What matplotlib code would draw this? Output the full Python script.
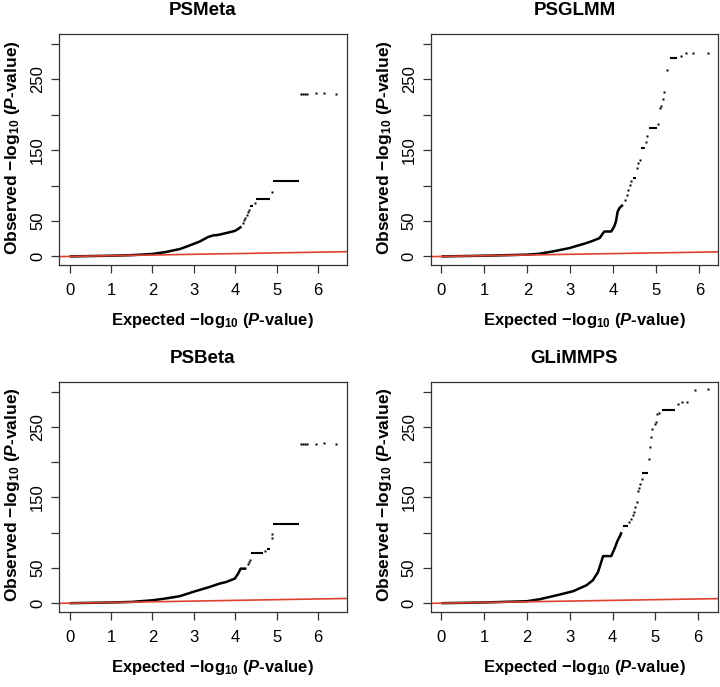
import numpy as np
import matplotlib
matplotlib.use("Agg")
import matplotlib.pyplot as plt

plt.rcParams['font.family'] = ['Liberation Sans', 'DejaVu Sans']
plt.rcParams['mathtext.fontset'] = 'custom'
plt.rcParams['mathtext.rm'] = 'Liberation Sans:bold'
plt.rcParams['mathtext.it'] = 'Liberation Sans:bold:italic'
plt.rcParams['mathtext.bf'] = 'Liberation Sans:bold'

# values: expected vs observed -log10(P)
titles = ["PSMeta", "PSGLMM", "PSBeta", "GLiMMPS"]

# PSMeta
psmeta_curve_x = [0, 0.5, 1.0, 1.5, 2.0, 2.3, 2.66, 2.9, 3.14, 3.34, 3.46, 3.6, 3.78, 3.99, 4.1, 4.15]
psmeta_curve_y = [0, 0.5, 1.0, 1.8, 3.5, 6.0, 10.4, 15.5, 21, 27.3, 29.6, 30.5, 33, 36, 40, 42.3]
psmeta_runs = [(4.36, 4.44, 70.5), (4.50, 4.85, 80.9), (4.90, 5.53, 107)]
psmeta_dots_x = [4.19, 4.21, 4.24, 4.28, 4.31, 4.34, 4.47, 4.89, 5.58, 5.63, 5.68, 5.74, 5.94, 6.14, 6.44]
psmeta_dots_y = [47, 51, 54, 58, 63.4, 66, 75, 91.6, 230, 230, 230, 230, 230.5, 231, 230]

# PSGLMM
psglmm_curve_x = [0, 1.0, 2.0, 2.28, 2.59, 2.98, 3.37, 3.52, 3.68, 3.75, 3.79, 3.95, 4.02, 4.06, 4.10, 4.14, 4.22]
psglmm_curve_y = [0, 1.0, 2.5, 3.8, 7.0, 11.8, 18.8, 22, 25.9, 32, 35.2, 35.2, 42.3, 49.3, 63.4, 68.2, 72.9]
psglmm_runs = [(4.46, 4.53, 110.5), (4.64, 4.74, 152.7), (4.84, 5.01, 182), (5.32, 5.49, 280)]
psglmm_dots_x = [4.28, 4.32, 4.35, 4.38, 4.42, 4.55, 4.58, 4.61, 4.76, 4.79, 5.04, 5.08, 5.10, 5.15, 5.18, 5.24, 5.57, 5.69, 5.86, 6.19]
psglmm_dots_y = [80, 87, 94, 101, 106, 124.6, 131.6, 136, 162, 170, 187, 210, 212, 223, 231.6, 263, 283, 286.6, 287.5, 286.6]

# PSBeta
psbeta_curve_x = [0, 1.0, 1.5, 2.01, 2.3, 2.66, 2.98, 3.38, 3.62, 3.78, 3.99, 4.07, 4.13, 4.27]
psbeta_curve_y = [0, 1.0, 1.8, 4.2, 6.5, 9.9, 16, 23, 27.8, 30, 34.9, 42, 49, 49]
psbeta_runs = [(4.37, 4.67, 71), (4.77, 4.85, 76.3), (4.90, 5.53, 112.6)]
psbeta_dots_x = [4.31, 4.33, 4.35, 4.71, 4.88, 4.89, 5.58, 5.63, 5.68, 5.74, 5.94, 6.14, 6.44]
psbeta_dots_y = [56, 58, 60.7, 73.9, 92.8, 98.4, 225.6, 225.6, 225.6, 225.6, 226, 226.5, 225.6]

# GLiMMPS
glimmps_curve_x = [0, 1.0, 2.0, 2.30, 2.77, 3.08, 3.39, 3.54, 3.66, 3.78, 3.97, 4.05, 4.12, 4.18, 4.21]
glimmps_curve_y = [0, 1.0, 2.8, 5.6, 12.3, 17, 25.4, 32.5, 44, 66.8, 66.8, 78, 89, 96, 100.7]
glimmps_runs = [(4.25, 4.36, 110), (4.70, 4.84, 184.6), (5.15, 5.45, 273.6)]
glimmps_dots_x = [4.39, 4.44, 4.47, 4.50, 4.53, 4.56, 4.60, 4.62, 4.64, 4.68, 4.85, 4.87, 4.91, 4.93, 4.99,
                  5.01, 5.04, 5.09, 5.53, 5.63, 5.73, 5.92, 6.22]
glimmps_dots_y = [114.8, 119.6, 125, 129, 137, 144, 159.6, 164, 169, 176, 204, 220.8, 235, 246.7, 254,
                  257, 268, 270, 282, 285, 285, 302, 304]

panels = [
    (psmeta_curve_x, psmeta_curve_y, psmeta_runs, psmeta_dots_x, psmeta_dots_y),
    (psglmm_curve_x, psglmm_curve_y, psglmm_runs, psglmm_dots_x, psglmm_dots_y),
    (psbeta_curve_x, psbeta_curve_y, psbeta_runs, psbeta_dots_x, psbeta_dots_y),
    (glimmps_curve_x, glimmps_curve_y, glimmps_runs, glimmps_dots_x, glimmps_dots_y),
]

y_ticks = [0, 50, 100, 150, 200, 250, 300]
y_ticklabels = ['0', '50', '', '150', '', '250', '']
x_ticks = [0, 1, 2, 3, 4, 5, 6]
ymax = 302

boxes = [
    [0.0819, 0.6143, 0.400, 0.3362],
    [0.5982, 0.6143, 0.3993, 0.3362],
    [0.0819, 0.1096, 0.400, 0.3348],
    [0.5982, 0.1096, 0.3993, 0.3348],
]

fig = plt.figure(figsize=(7.2, 6.87), dpi=100)

for i, (cx, cy, runs, dx, dy) in enumerate(panels):
    ax = fig.add_axes(boxes[i])
    ax.plot(cx, cy, color='black', lw=1.8, solid_capstyle='butt')
    for x0, x1, yv in runs:
        ax.hlines(yv, x0, x1, color='black', lw=1.5)
    ax.plot(dx, dy, ls='none', marker='s', ms=1.6, mec='none', mfc='black')

    # R style axis range (4% padding)
    xmax = max(dx)
    ax.set_xlim(-0.04 * xmax, 1.04 * xmax)
    ax.set_ylim(-0.04 * ymax, 1.04 * ymax)

    # y = x reference line
    ax.axline((0, 0), slope=1, color='#e0402f', lw=1.2)

    ax.set_xticks(x_ticks)
    ax.set_yticks(y_ticks)
    ax.set_yticklabels(y_ticklabels, rotation=90, va='center')
    ax.tick_params(axis='both', length=6, width=0.9, color='#333333', labelsize=12)
    ax.tick_params(axis='x', pad=7)
    ax.tick_params(axis='y', pad=4)
    for s in ax.spines.values():
        s.set_linewidth(0.9)
        s.set_color('#333333')

    ax.set_title(titles[i], fontsize=13.5, fontweight='bold', pad=13.5)
    ax.set_xlabel('Expected \u2212log$_{10}$ ($P$-value)', fontsize=12, fontweight='bold')
    ax.set_ylabel('Observed \u2212log$_{10}$ ($P$-value)', fontsize=12.5, fontweight='bold')
    ax.xaxis.set_label_coords(0.533, -0.2)
    ax.yaxis.set_label_coords(-0.128, 0.51)

plt.savefig("out.png", dpi=100)
